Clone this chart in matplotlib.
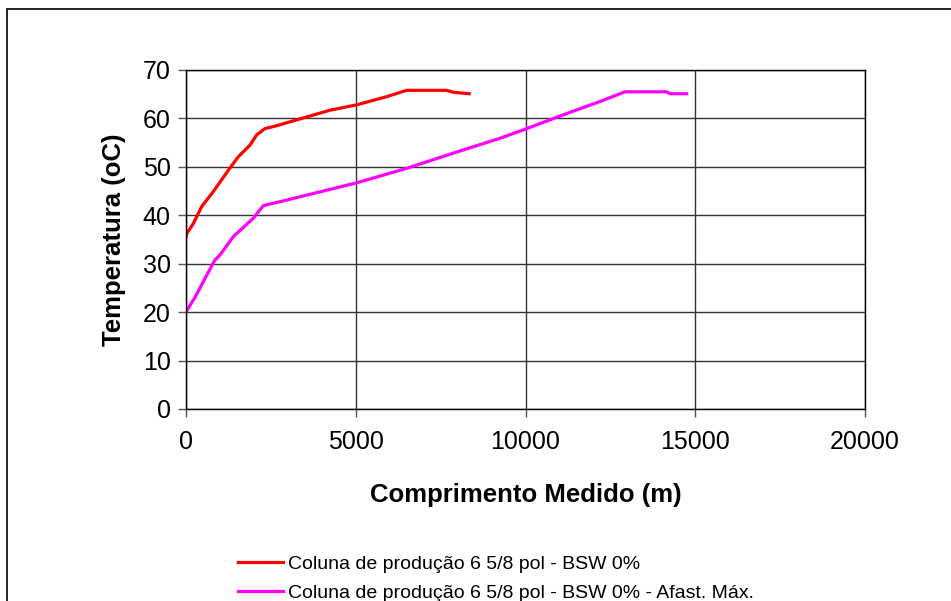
import matplotlib.pyplot as plt
from matplotlib.patches import Rectangle

plt.rcParams['font.family'] = ['Liberation Sans', 'DejaVu Sans']

# --- données ---
x_red = [0, 20, 216, 461, 805, 1247, 1542, 1885, 2082, 2327, 2621, 3260,
         4241, 5027, 5911, 6500, 7678, 7874, 8340]
y_red = [35.5, 36.2, 38.3, 41.8, 44.9, 49.3, 52.1, 54.5, 56.6, 57.9, 58.4, 59.7,
         61.7, 62.8, 64.5, 65.8, 65.8, 65.4, 65.1]

x_mag = [0, 300, 600, 854, 1000, 1394, 1983, 2278, 2769, 3750, 5027, 6500,
         8169, 9249, 10035, 11213, 12195, 12931, 14159, 14256, 14748]
y_mag = [20.0, 23.5, 27.5, 30.8, 31.8, 35.6, 39.4, 42.0, 42.8, 44.5, 46.7, 49.7,
         53.5, 55.9, 57.9, 61.0, 63.5, 65.5, 65.5, 65.1, 65.1]

label_red = "Coluna de produção 6 5/8 pol - BSW 0%"
label_mag = "Coluna de produção 6 5/8 pol - BSW 0% - Afast. Máx."

fig = plt.figure(figsize=(9.51, 6.01), dpi=100)
W, H = 951, 601

# cadre extérieur
fig.patches.append(Rectangle((7 / W, -0.05), 1.2, 1 - 9 / H + 0.05,
                             transform=fig.transFigure, fill=False,
                             edgecolor='black', linewidth=1.2))

ax = fig.add_axes([186 / W, 1 - 409 / H, 679 / W, 339 / H])
l1, = ax.plot(x_red, y_red, color='#ff0000', linewidth=2.3)
l2, = ax.plot(x_mag, y_mag, color='#ff00ff', linewidth=2.3)

ax.set_xlim(0, 20000)
ax.set_ylim(0, 70)
ax.set_xticks(range(0, 20001, 5000))
ax.set_yticks(range(0, 71, 10))
ax.grid(True, color='#333333', linewidth=1.0)
ax.set_axisbelow(True)
for s in ax.spines.values():
    s.set_color('black')
    s.set_linewidth(1.0)
ax.tick_params(axis='both', labelsize=18, direction='out', length=6,
               width=1, color='#555555')
ax.tick_params(axis='x', pad=9)
ax.tick_params(axis='y', pad=5)

ax.set_xlabel("Comprimento Medido (m)", fontsize=18.5, fontweight='bold', labelpad=21)
ax.set_ylabel("Temperatura (oC)", fontsize=18.5, fontweight='bold', labelpad=12)

fig.legend([l1, l2], [label_red, label_mag], loc='upper left',
           bbox_to_anchor=(238 / W, 1 - 555 / H), frameon=False,
           borderpad=0, borderaxespad=0,
           fontsize=14, handlelength=2.3, handletextpad=0.26, labelspacing=0.62)

fig.savefig("out.png", dpi=100)
